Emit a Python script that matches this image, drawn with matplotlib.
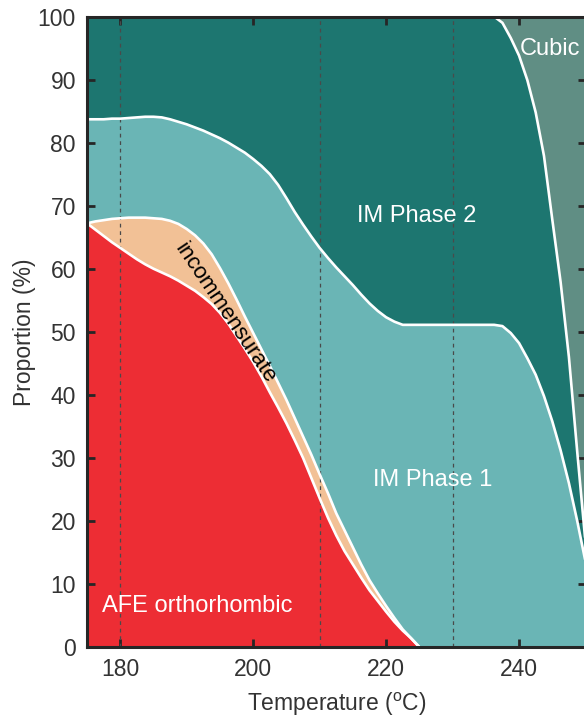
import numpy as np
import matplotlib.pyplot as plt

plt.rcParams['font.family'] = ['Liberation Sans', 'DejaVu Sans']
plt.rcParams['mathtext.fontset'] = 'custom'
plt.rcParams['mathtext.rm'] = 'Liberation Sans'

# temperature grid (degC), 175 .. 250 in 1.25 steps
temperature = np.arange(175, 251.25, 1.25)

# cumulative phase boundaries (%)
afe_top = [67.2, 66.2, 65.2, 64.2, 63.3, 62.4, 61.5, 60.7, 60.0, 59.4,
           58.8, 58.1, 57.3, 56.5, 55.5, 54.4, 53.0, 51.3, 49.3, 47.3,
           45.2, 42.9, 40.4, 38.0, 35.5, 32.8, 30.0, 26.8, 23.6, 20.5,
           17.7, 15.2, 13.1, 11.0, 9.0, 7.3, 5.6, 4.0, 2.6, 1.4,
           0.0, 0, 0, 0, 0, 0, 0, 0, 0, 0,
           0, 0, 0, 0, 0, 0, 0, 0, 0, 0,
           0]
incomm_top = [67.2, 67.5, 67.7, 67.9, 68.0, 68.1, 68.1, 68.1, 68.0, 67.9,
              67.6, 67.1, 66.3, 65.3, 64.0, 62.3, 60.1, 57.7, 55.1, 52.4,
              49.8, 47.2, 44.6, 41.9, 39.2, 36.3, 33.4, 30.5, 27.4, 24.4,
              21.2, 18.5, 15.8, 13.1, 10.6, 8.5, 6.5, 4.6, 2.8, 1.4,
              0.0, 0, 0, 0, 0, 0, 0, 0, 0, 0,
              0, 0, 0, 0, 0, 0, 0, 0, 0, 0,
              0]
im1_top = [83.7, 83.7, 83.7, 83.8, 83.8, 83.9, 84.0, 84.1, 84.1, 84.0,
           83.7, 83.3, 82.9, 82.4, 81.9, 81.3, 80.7, 80.0, 79.2, 78.4,
           77.4, 76.3, 75.0, 73.3, 71.2, 69.0, 67.0, 65.1, 63.3, 61.7,
           60.2, 58.8, 57.4, 55.9, 54.5, 53.3, 52.3, 51.6, 51.1, 51.1,
           51.1, 51.1, 51.1, 51.1, 51.1, 51.1, 51.1, 51.1, 51.1, 51.1,
           50.9, 49.8, 48.2, 45.8, 43.2, 39.8, 35.8, 31.2, 26.0, 20.0,
           13.5]
im2_top = [100, 100, 100, 100, 100, 100, 100, 100, 100, 100,
           100, 100, 100, 100, 100, 100, 100, 100, 100, 100,
           100, 100, 100, 100, 100, 100, 100, 100, 100, 100,
           100, 100, 100, 100, 100, 100, 100, 100, 100, 100,
           100, 100, 100, 100, 100, 100, 100, 100, 100, 100,
           99.0, 96.6, 93.8, 89.9, 84.8, 77.9, 67.8, 57.9, 46.0, 31.0,
           16.5]

phase_colors = {
    'afe': '#ED2D34',
    'incomm': '#F2C196',
    'im1': '#6AB5B5',
    'im2': '#1D7670',
    'cubic': '#608E84',
}
marker_temps = [180, 210, 230]


def visible(y, flat):
    """Hide the flat part of a boundary so no white line runs on the frame."""
    y = np.asarray(y, dtype=float)
    changed = y != flat
    keep = changed.copy()
    keep[1:] |= changed[:-1]
    keep[:-1] |= changed[1:]
    return np.where(keep, y, np.nan)


fig = plt.figure(figsize=(5.84, 7.21), dpi=100)
ax = fig.add_axes([0.149, 0.1026, 0.8536, 0.8745])

ax.fill_between(temperature, 0, afe_top, color=phase_colors['afe'], lw=0)
ax.fill_between(temperature, afe_top, incomm_top, color=phase_colors['incomm'], lw=0)
ax.fill_between(temperature, incomm_top, im1_top, color=phase_colors['im1'], lw=0)
ax.fill_between(temperature, im1_top, im2_top, color=phase_colors['im2'], lw=0)
ax.fill_between(temperature, im2_top, 100, color=phase_colors['cubic'], lw=0)

for t in marker_temps:
    ax.axvline(t, color='#4a4a4a', lw=0.9, ls=(0, (3, 3)), zorder=2)

for y, flat in [(afe_top, 0), (incomm_top, 0), (im1_top, None), (im2_top, 100)]:
    yy = np.asarray(y, dtype=float) if flat is None else visible(y, flat)
    ax.plot(temperature, yy, color='white', lw=1.9, zorder=3,
            solid_capstyle='round', solid_joinstyle='round')

ax.text(191.6, 6.5, 'AFE orthorhombic', color='white', fontsize=17,
        ha='center', va='center')
ax.text(224.6, 68.3, 'IM Phase 2', color='white', fontsize=17,
        ha='center', va='center')
ax.text(227.0, 26.5, 'IM Phase 1', color='white', fontsize=17,
        ha='center', va='center')
ax.text(240.1, 94.8, 'Cubic', color='white', fontsize=17,
        ha='left', va='center')
ax.text(195.75, 53.0, 'incommensurate', color='black', fontsize=16,
        ha='center', va='center', rotation=-56, rotation_mode='anchor')

ax.set_xlim(175, 250)
ax.set_ylim(0, 100)
ax.set_xticks([180, 200, 220, 240])
ax.set_yticks(np.arange(0, 101, 10))
ax.tick_params(direction='in', length=6, width=2, top=True, right=True,
               labelsize=16.5, labelcolor='#333333', color='#262626', pad=8)
for s in ax.spines.values():
    s.set_linewidth(2.2)
    s.set_color('#262626')
    s.set_zorder(5)

ax.set_xlabel('Temperature ($^{\\rm o}$C)', fontsize=16.5, color='#333333', labelpad=7)
ax.set_ylabel('Proportion (%)', fontsize=16.5, color='#333333', labelpad=1.5)

fig.savefig('out.png', dpi=100)
